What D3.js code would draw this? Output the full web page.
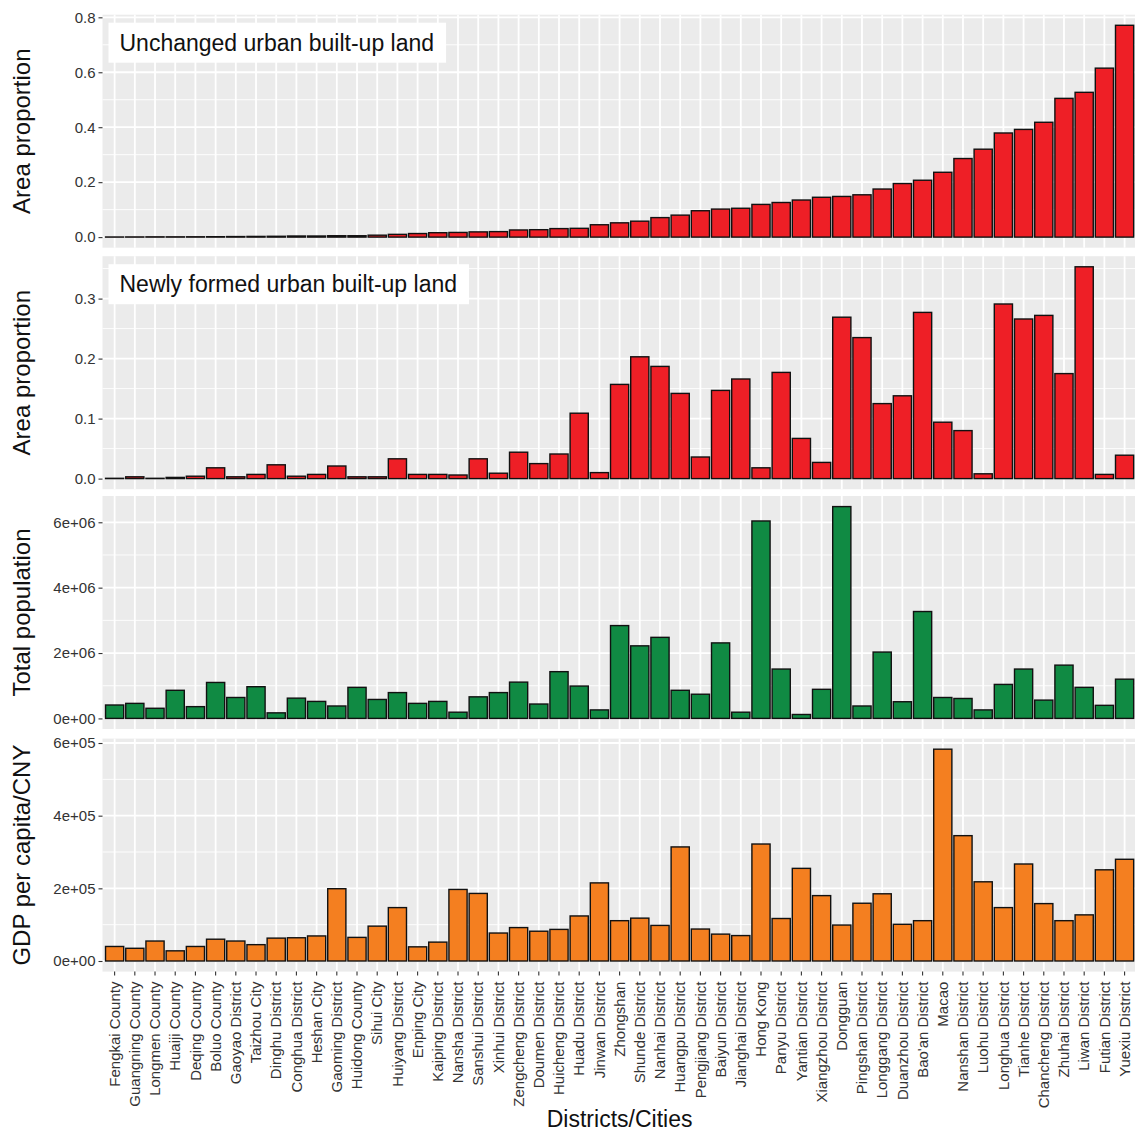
<!DOCTYPE html>
<html>
<head>
<meta charset="utf-8">
<script src="https://cdn.jsdelivr.net/npm/d3@7"></script>
<style>
  body { margin: 0; background: #fff; }
  svg { display: block; font-family: "Liberation Sans", Arial, sans-serif; }
  .axis path.domain { display: none; }
  .axis line { stroke: #333; stroke-width: 1.1; }
  .axis text { fill: #333; }
</style>
</head>
<body>
<svg id="chart"></svg>
<script>
// categories, sorted by unchanged urban land share
const districts = [
  "Fengkai County", "Guangning County", "Longmen County", "Huaiji County", "Deqing County",
  "Boluo County", "Gaoyao District", "Taizhou City", "Dinghu District", "Conghua District",
  "Heshan City", "Gaoming District", "Huidong County", "Sihui City", "Huiyang District",
  "Enping City", "Kaiping District", "Nansha District", "Sanshui District", "Xinhui District",
  "Zengcheng District", "Doumen District", "Huicheng District", "Huadu District", "Jinwan District",
  "Zhongshan", "Shunde District", "Nanhai District", "Huangpu District", "Pengjiang District",
  "Baiyun District", "Jianghai District", "Hong Kong", "Panyu District", "Yantian District",
  "Xiangzhou District", "Dongguan", "Pingshan District", "Longgang District", "Duanzhou District",
  "Bao'an District", "Macao", "Nanshan District", "Luohu District", "Longhua District",
  "Tianhe District", "Chancheng District", "Zhuhai District", "Liwan District", "Futian District",
  "Yuexiu District"
];

const unchangedShare = [
  0.0005, 0.0007, 0.001, 0.001, 0.0012, 0.0015, 0.002, 0.0025, 0.003, 0.004,
  0.004, 0.005, 0.005, 0.007, 0.010, 0.013, 0.016, 0.017, 0.019, 0.020,
  0.026, 0.027, 0.031, 0.032, 0.045, 0.052, 0.058, 0.071, 0.080, 0.096,
  0.102, 0.105, 0.119, 0.126, 0.135, 0.145, 0.148, 0.154, 0.175, 0.195,
  0.207, 0.236, 0.286, 0.320, 0.379, 0.392, 0.418, 0.505, 0.527, 0.615,
  0.771
];

const newShare = [
  0.0005, 0.003, 0.0005, 0.002, 0.004, 0.018, 0.003, 0.007, 0.023, 0.004,
  0.007, 0.021, 0.003, 0.003, 0.033, 0.007, 0.007, 0.006, 0.033, 0.009,
  0.044, 0.025, 0.041, 0.109, 0.010, 0.157, 0.203, 0.187, 0.142, 0.036,
  0.147, 0.166, 0.018, 0.177, 0.067, 0.027, 0.269, 0.235, 0.125, 0.138,
  0.277, 0.094, 0.080, 0.008, 0.291, 0.266, 0.272, 0.175, 0.353, 0.007,
  0.039
];

const population = [
  410000, 460000, 310000, 860000, 360000, 1100000, 640000, 970000, 170000, 620000,
  520000, 380000, 950000, 580000, 790000, 460000, 520000, 190000, 660000, 790000,
  1110000, 440000, 1430000, 990000, 260000, 2840000, 2220000, 2480000, 860000, 740000,
  2310000, 190000, 6040000, 1510000, 120000, 890000, 6480000, 380000, 2030000, 510000,
  3270000, 640000, 610000, 260000, 1040000, 1510000, 560000, 1630000, 950000, 400000,
  1200000
];

const gdpPerCapita = [
  40000, 35000, 55000, 28000, 40000, 60000, 55000, 45000, 63000, 64000,
  69000, 199000, 65000, 96000, 147000, 39000, 52000, 197000, 186000, 77000,
  92000, 82000, 87000, 124000, 215000, 111000, 118000, 98000, 314000, 88000,
  74000, 70000, 322000, 117000, 255000, 180000, 99000, 159000, 185000, 101000,
  111000, 583000, 345000, 218000, 147000, 267000, 158000, 111000, 127000, 251000,
  280000
];

const unchangedTicks = [0, 0.2, 0.4, 0.6, 0.8];
const unchangedTickLabels = ["0.0", "0.2", "0.4", "0.6", "0.8"];
const newTicks = [0, 0.1, 0.2, 0.3];
const newTickLabels = ["0.0", "0.1", "0.2", "0.3"];
const popTicks = [0, 2e6, 4e6, 6e6];
const popTickLabels = ["0e+00", "2e+06", "4e+06", "6e+06"];
const gdpTicks = [0, 2e5, 4e5, 6e5];
const gdpTickLabels = ["0e+00", "2e+05", "4e+05", "6e+05"];

class BarPanel {

  constructor(_config, _data) {
    this.config = {
      parent: _config.parent,
      top: _config.top,
      left: _config.left,
      width: _config.width,
      height: _config.height,
      ticks: _config.ticks,
      tickLabels: _config.tickLabels,
      fill: _config.fill,
      yTitle: _config.yTitle,
      label: _config.label,
      showX: _config.showX || false
    };
    this.data = _data;
    this.initVis();
  }

  initVis() {
    let vis = this;
    let cfg = vis.config;

    // ggplot style: 5% expansion on both ends of [0, max]
    let maxV = d3.max(vis.data, d => d.value);
    vis.yScale = d3.scaleLinear()
      .domain([-0.05 * maxV, 1.05 * maxV])
      .range([cfg.height, 0]);

    // discrete x: bar width 0.9, 0.6 unit expansion at each side
    vis.xScale = d3.scaleBand()
      .domain(vis.data.map(d => d.name))
      .range([0, cfg.width])
      .paddingInner(0.1)
      .paddingOuter(0.15);

    vis.chart = cfg.parent.append('g')
      .attr('transform', `translate(${cfg.left},${cfg.top})`);

    vis.chart.append('rect')
      .attr('width', cfg.width)
      .attr('height', cfg.height)
      .attr('fill', '#EBEBEB');

    // minor grid halfway between the major breaks
    let step = cfg.ticks[1] - cfg.ticks[0];
    let minor = d3.range(cfg.ticks.length + 1)
      .map(i => cfg.ticks[0] - step / 2 + i * step)
      .filter(v => v > vis.yScale.domain()[0] && v < vis.yScale.domain()[1]);

    vis.chart.selectAll('.minor')
      .data(minor)
      .join('line')
      .attr('class', 'minor')
      .attr('x1', 0).attr('x2', cfg.width)
      .attr('y1', d => vis.yScale(d)).attr('y2', d => vis.yScale(d))
      .attr('stroke', '#fff')
      .attr('stroke-width', 0.9);

    vis.chart.selectAll('.hmajor')
      .data(cfg.ticks)
      .join('line')
      .attr('class', 'hmajor')
      .attr('x1', 0).attr('x2', cfg.width)
      .attr('y1', d => vis.yScale(d)).attr('y2', d => vis.yScale(d))
      .attr('stroke', '#fff')
      .attr('stroke-width', 1.8);

    vis.chart.selectAll('.vmajor')
      .data(vis.data)
      .join('line')
      .attr('class', 'vmajor')
      .attr('x1', d => vis.xScale(d.name) + vis.xScale.bandwidth() / 2)
      .attr('x2', d => vis.xScale(d.name) + vis.xScale.bandwidth() / 2)
      .attr('y1', 0).attr('y2', cfg.height)
      .attr('stroke', '#fff')
      .attr('stroke-width', 1.8);

    vis.chart.selectAll('.bar')
      .data(vis.data)
      .join('rect')
      .attr('class', 'bar')
      .attr('x', d => vis.xScale(d.name))
      .attr('width', vis.xScale.bandwidth())
      .attr('y', d => vis.yScale(d.value))
      .attr('height', d => vis.yScale(0) - vis.yScale(d.value))
      .attr('fill', cfg.fill)
      .attr('stroke', '#111')
      .attr('stroke-width', 1.4);

    if (cfg.label) {
      let lab = vis.chart.append('g').attr('transform', 'translate(6,8)');
      let box = lab.append('rect')
        .attr('fill', '#fff')
        .attr('height', 40);
      let txt = lab.append('text')
        .attr('x', 11)
        .attr('y', 28)
        .style('font-size', '23px')
        .attr('fill', '#111')
        .text(cfg.label);
      box.attr('width', txt.node().getComputedTextLength() + 23);
    }

    // y axis
    vis.yAxis = d3.axisLeft(vis.yScale)
      .tickValues(cfg.ticks)
      .tickFormat((d, i) => cfg.tickLabels[i])
      .tickSize(4)
      .tickPadding(3);

    vis.chart.append('g')
      .attr('class', 'axis y-axis')
      .call(vis.yAxis)
      .selectAll('text')
      .style('font-size', '15px');

    vis.chart.append('text')
      .attr('transform', `translate(${22 - cfg.left},${cfg.height / 2}) rotate(-90)`)
      .attr('text-anchor', 'middle')
      .attr('dy', '0.35em')
      .style('font-size', '24px')
      .attr('fill', '#111')
      .text(cfg.yTitle);

    if (cfg.showX) {
      vis.xAxis = d3.axisBottom(vis.xScale).tickSize(4);
      vis.chart.append('g')
        .attr('class', 'axis x-axis')
        .attr('transform', `translate(0,${cfg.height})`)
        .call(vis.xAxis)
        .selectAll('text')
        .style('font-size', '15px')
        .attr('fill', '#111')
        .attr('transform', 'rotate(-90)')
        .attr('x', -10)
        .attr('y', 0)
        .attr('dy', '0.35em')
        .style('text-anchor', 'end');

      vis.chart.append('text')
        .attr('x', cfg.width / 2)
        .attr('y', cfg.height + 155)
        .attr('text-anchor', 'middle')
        .style('font-size', '23px')
        .attr('fill', '#111')
        .text('Districts/Cities');
    }
  }
}

const svg = d3.select('#chart')
  .attr('width', 1135)
  .attr('height', 1135);

const plotLeft = 102.5;
const plotWidth = 1034.2;
const panelHeight = 233;

const rows = (vals) => districts.map((name, i) => ({ name: name, value: vals[i] }));

new BarPanel({ parent: svg, top: 14.7, left: plotLeft, width: plotWidth, height: panelHeight,
  ticks: unchangedTicks, tickLabels: unchangedTickLabels, fill: '#EE1F26',
  yTitle: 'Area proportion', label: 'Unchanged urban built-up land' }, rows(unchangedShare));

new BarPanel({ parent: svg, top: 256.2, left: plotLeft, width: plotWidth, height: panelHeight,
  ticks: newTicks, tickLabels: newTickLabels, fill: '#EE1F26',
  yTitle: 'Area proportion', label: 'Newly formed urban built-up land' }, rows(newShare));

new BarPanel({ parent: svg, top: 496, left: plotLeft, width: plotWidth, height: panelHeight,
  ticks: popTicks, tickLabels: popTickLabels, fill: '#108A43',
  yTitle: 'Total population' }, rows(population));

new BarPanel({ parent: svg, top: 738.6, left: plotLeft, width: plotWidth, height: panelHeight,
  ticks: gdpTicks, tickLabels: gdpTickLabels, fill: '#F47F20',
  yTitle: 'GDP per capita/CNY', showX: true }, rows(gdpPerCapita));
</script>
</body>
</html>
